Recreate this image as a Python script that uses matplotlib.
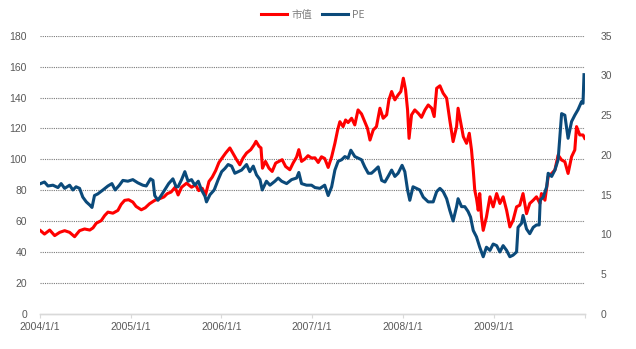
import matplotlib
matplotlib.use("Agg")
import matplotlib.pyplot as plt
import pandas as pd

plt.rcParams['font.family'] = ['Liberation Sans', 'Noto Sans CJK SC', 'DejaVu Sans']

mv_dates = [
    "2004-01-05","2004-01-21","2004-02-11","2004-03-02","2004-03-22","2004-04-11","2004-05-01","2004-05-21",
    "2004-06-10","2004-06-30","2004-07-21","2004-08-03","2004-08-16","2004-09-05","2004-09-19","2004-10-02",
    "2004-10-22","2004-11-11","2004-11-24","2004-12-08","2004-12-24","2005-01-10","2005-01-23","2005-02-13",
    "2005-03-01","2005-03-18","2005-04-08","2005-04-28","2005-05-15","2005-05-28","2005-06-13","2005-06-29",
    "2005-07-11","2005-07-25","2005-08-14","2005-09-03","2005-09-19","2005-10-02","2005-10-16","2005-10-29",
    "2005-11-12","2005-11-25","2005-12-09","2005-12-22","2006-01-04","2006-01-18","2006-02-04","2006-02-17",
    "2006-03-03","2006-03-16","2006-03-29","2006-04-12","2006-04-29","2006-05-13","2006-05-20","2006-06-01",
    "2006-06-09","2006-06-15","2006-06-27","2006-07-11","2006-07-24","2006-08-07","2006-08-20","2006-09-02",
    "2006-09-16","2006-10-03","2006-10-16","2006-10-30","2006-11-08","2006-11-19","2006-12-02","2006-12-15",
    "2006-12-29","2007-01-12","2007-01-25","2007-02-07","2007-02-20","2007-03-06","2007-03-20","2007-04-02",
    "2007-04-13","2007-04-22","2007-05-05","2007-05-15","2007-05-25","2007-06-08","2007-06-21","2007-07-04",
    "2007-07-18","2007-07-31","2007-08-11","2007-08-21","2007-09-03","2007-09-16","2007-09-30","2007-10-13",
    "2007-10-27","2007-11-05","2007-11-16","2007-11-29","2007-12-12","2007-12-23","2008-01-02","2008-01-11",
    "2008-01-19","2008-01-25","2008-02-04","2008-02-17","2008-03-02","2008-03-15","2008-03-29","2008-04-11",
    "2008-04-25","2008-05-05","2008-05-15","2008-05-28","2008-06-10","2008-06-24","2008-07-07","2008-07-20",
    "2008-08-03","2008-08-09","2008-08-19","2008-08-30","2008-09-12","2008-09-23","2008-10-02","2008-10-09",
    "2008-10-15","2008-10-22","2008-10-29","2008-11-04","2008-11-11","2008-11-18","2008-12-01","2008-12-15",
    "2008-12-28","2009-01-11","2009-01-24","2009-02-06","2009-02-20","2009-03-05","2009-03-18","2009-04-01",
    "2009-04-14","2009-04-27","2009-05-11","2009-05-24","2009-06-07","2009-06-20","2009-07-04","2009-07-10",
    "2009-07-24","2009-08-06","2009-08-20","2009-09-02","2009-09-15","2009-09-29","2009-10-12","2009-10-25",
    "2009-11-08","2009-11-21","2009-11-28","2009-12-11","2009-12-24","2009-12-31",
]
mv_values = [
    53.9,51.7,54.3,50.7,52.8,53.9,52.8,50.0,
    53.9,55.0,54.3,55.7,58.7,60.4,63.7,65.9,
    65.2,67.0,70.9,73.5,73.9,72.4,69.6,67.4,
    68.7,71.3,73.5,74.6,75.7,77.8,78.9,82.0,
    77.0,82.0,84.6,82.0,83.5,79.8,81.3,77.0,
    85.7,88.5,92.8,98.0,100.9,104.1,107.4,103.7,
    99.8,96.5,100.9,104.1,106.3,109.6,111.7,108.5,
    107.4,94.3,98.7,94.3,92.2,97.6,98.7,99.8,
    95.4,93.3,97.6,101.5,106.3,98.7,100.2,102.4,
    100.9,101.0,98.0,101.7,100.6,94.8,101.7,110.4,
    119.0,124.4,121.2,125.5,123.8,126.6,122.3,132.0,
    129.4,124.4,120.1,112.5,119.0,121.2,133.1,126.6,
    128.8,138.5,143.9,138.5,141.7,143.9,152.5,145.0,
    132.0,113.6,128.8,132.0,129.8,127.2,132.0,135.2,
    133.1,127.7,146.0,147.6,142.8,139.6,125.0,111.5,
    121.2,133.1,124.4,114.7,110.4,116.9,106.1,93.1,
    80.1,74.7,67.1,77.9,62.8,54.1,62.8,75.8,
    69.3,77.9,71.5,75.8,67.1,56.3,60.6,69.3,
    70.4,77.9,64.9,71.5,73.6,75.8,71.5,77.9,
    73.6,88.8,90.9,93.1,102.8,99.6,98.5,90.9,
    101.7,106.1,121.2,115.8,115.8,113.6,
]

pe_dates = [
    "2004-01-05","2004-01-21","2004-02-04","2004-02-24","2004-03-15","2004-03-28","2004-04-11","2004-05-01",
    "2004-05-14","2004-05-27","2004-06-10","2004-06-23","2004-07-07","2004-07-21","2004-07-30","2004-08-09",
    "2004-08-22","2004-09-12","2004-10-02","2004-10-18","2004-10-31","2004-11-17","2004-12-01","2004-12-21",
    "2005-01-10","2005-01-30","2005-02-19","2005-03-05","2005-03-22","2005-04-01","2005-04-08","2005-04-21",
    "2005-05-04","2005-05-18","2005-06-03","2005-06-20","2005-07-03","2005-07-11","2005-07-25","2005-08-07",
    "2005-08-20","2005-09-03","2005-09-16","2005-09-30","2005-10-13","2005-10-27","2005-11-02","2005-11-16",
    "2005-12-03","2005-12-19","2006-01-02","2006-01-15","2006-01-28","2006-02-11","2006-02-24","2006-03-09",
    "2006-03-23","2006-04-12","2006-04-25","2006-05-09","2006-05-22","2006-06-05","2006-06-14","2006-07-01",
    "2006-07-15","2006-08-04","2006-08-17","2006-08-31","2006-09-20","2006-10-10","2006-10-30","2006-11-08",
    "2006-11-19","2006-12-09","2006-12-29","2007-01-12","2007-02-01","2007-02-20","2007-03-06","2007-03-20",
    "2007-04-02","2007-04-15","2007-04-29","2007-05-12","2007-05-25","2007-06-05","2007-06-21","2007-07-04",
    "2007-07-18","2007-07-31","2007-08-14","2007-08-27","2007-09-10","2007-09-23","2007-10-07","2007-10-20",
    "2007-11-02","2007-11-16","2007-11-29","2007-12-12","2007-12-28","2008-01-08","2008-01-19","2008-01-28",
    "2008-02-10","2008-02-24","2008-03-08","2008-03-22","2008-04-11","2008-05-01","2008-05-15","2008-05-28",
    "2008-06-10","2008-06-24","2008-07-07","2008-07-20","2008-08-03","2008-08-09","2008-08-23","2008-09-05",
    "2008-09-18","2008-09-28","2008-10-09","2008-10-22","2008-11-04","2008-11-18","2008-12-01","2008-12-15",
    "2008-12-28","2009-01-11","2009-01-24","2009-02-06","2009-02-20","2009-03-05","2009-03-18","2009-04-01",
    "2009-04-07","2009-04-21","2009-04-27","2009-05-11","2009-05-24","2009-06-07","2009-06-20","2009-07-01",
    "2009-07-05","2009-07-17","2009-07-31","2009-08-06","2009-08-20","2009-09-02","2009-09-15","2009-09-29",
    "2009-10-12","2009-10-25","2009-11-08","2009-11-21","2009-12-04","2009-12-18","2009-12-24","2009-12-28",
]
pe_values = [
    16.4,16.6,16.1,16.2,15.9,16.4,15.8,16.2,
    15.6,16.0,15.8,14.7,14.1,13.7,13.4,14.9,
    15.1,15.6,16.1,16.4,15.6,16.2,16.8,16.7,
    16.9,16.5,16.2,16.1,17.0,16.8,14.9,14.3,
    14.9,15.6,16.4,17.0,16.0,16.0,16.9,17.9,
    16.7,16.9,16.2,16.7,15.6,14.8,14.1,15.0,
    15.6,16.9,17.9,18.3,18.8,18.6,17.7,17.9,
    18.1,18.8,17.9,18.6,17.5,16.9,15.6,16.7,
    16.2,16.7,17.1,16.7,16.4,16.9,17.1,17.8,
    16.4,16.2,16.2,15.9,15.8,16.2,14.9,16.0,
    18.1,19.2,19.4,19.8,19.6,20.6,19.8,19.6,
    19.4,18.5,17.7,17.7,18.1,18.5,16.8,16.6,
    17.3,18.1,17.3,17.7,18.7,17.9,15.6,14.3,
    16.0,15.8,15.6,14.7,14.1,14.1,15.4,15.8,
    15.4,14.5,13.0,11.7,13.5,14.5,13.5,13.5,
    12.9,12.2,10.5,9.7,8.4,7.2,8.4,8.0,
    8.8,8.6,7.8,8.6,8.0,7.2,7.4,7.8,
    10.9,11.4,12.4,10.7,10.1,10.9,11.2,11.2,
    14.3,14.7,16.0,17.7,17.3,18.1,19.4,25.2,
    25.0,22.1,24.2,25.0,25.7,26.7,26.5,30.1,
]

x_ticks = ["2004-01-01","2005-01-01","2006-01-01","2007-01-01","2008-01-01","2009-01-01","2010-01-01"]
x_labels = ["2004/1/1","2005/1/1","2006/1/1","2007/1/1","2008/1/1","2009/1/1",""]
left_ticks = list(range(0, 181, 20))
right_ticks = list(range(0, 36, 5))
series_names = ["市值", "PE"]

RED = "#FF0000"
BLUE = "#0B4A7A"
TXT = "#595959"

fig = plt.figure(figsize=(6.36, 3.49), dpi=100)
ax = fig.add_axes([39.5/636, 1-314/349, (585-39.5)/636, (314-35.7)/349])
ax2 = ax.twinx()

l1, = ax.plot(pd.to_datetime(mv_dates), mv_values, color=RED, lw=2.2, solid_joinstyle='round')
l2, = ax2.plot(pd.to_datetime(pe_dates), pe_values, color=BLUE, lw=2.2, solid_joinstyle='round')

ax.set_xlim(pd.Timestamp("2004-01-01"), pd.Timestamp("2010-01-01"))
ax.set_ylim(0, 180)
ax2.set_ylim(0, 35)
ax.set_yticks(left_ticks)
ax2.set_yticks(right_ticks)
ax.set_xticks(pd.to_datetime(x_ticks))
ax.set_xticklabels(x_labels)

ax.yaxis.grid(True, linestyle=(0, (1, 1)), color="#7a7a7a", lw=0.8)
ax.set_axisbelow(True)
ax.yaxis.get_gridlines()[0].set_visible(False)

for a in (ax, ax2):
    for s in ("top", "left", "right"):
        a.spines[s].set_visible(False)
    a.spines["bottom"].set_color("#d9d9d9")
    a.spines["bottom"].set_linewidth(1.0)

ax.tick_params(axis="x", length=3, color="#d9d9d9", labelsize=7.5, labelcolor=TXT, pad=3)
ax.tick_params(axis="y", length=0, labelsize=7.5, labelcolor=TXT, pad=9)
ax2.tick_params(axis="y", length=0, labelsize=7.5, labelcolor=TXT, pad=11)

leg = fig.legend([l1, l2], series_names, loc="center", bbox_to_anchor=(313/636, 1-15/349),
                 ncol=2, frameon=False, fontsize=7.5, handlelength=2.5, handletextpad=0.45,
                 columnspacing=0.9, borderaxespad=0)
for t in leg.get_texts():
    t.set_color("#7f7f7f")
    t.set_family(["Noto Sans CJK SC", "DejaVu Sans"])

fig.savefig("out.png", dpi=100)
